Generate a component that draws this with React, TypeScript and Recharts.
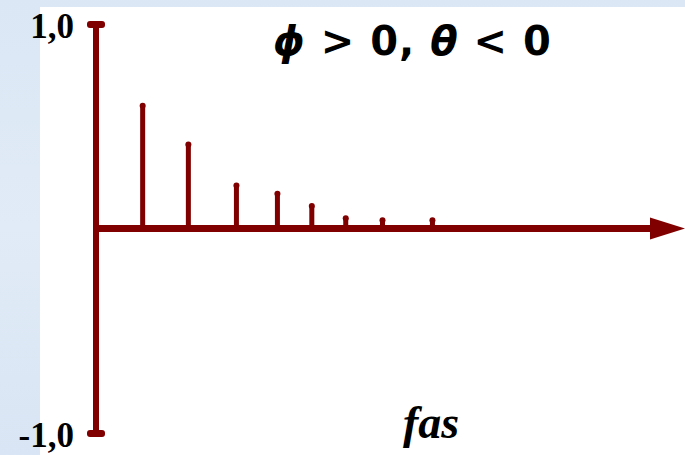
import { Bar, ComposedChart, ReferenceLine, XAxis, YAxis } from 'recharts';

const MAROON = '#800000';

// lag positions (as drawn) and autocorrelation values
const LAGS = [1, 1.97, 2.99, 3.86, 4.59, 5.31, 6.09, 7.15];
const ACF = [0.61, 0.42, 0.22, 0.18, 0.12, 0.06, 0.05, 0.05];
const Y_TICKS = [-1, 1];
const Y_LABELS: Record<string, string> = { '1': '1,0', '-1': '-1,0' };

const data = LAGS.map((lag, i) => ({ lag, v: ACF[i] }));

function Stem(props: any) {
  const { x, y, width, height } = props;
  if (x == null || y == null) return null;
  const cx = x + width / 2;
  return (
    <g>
      <rect x={x} y={y + 2} width={width} height={Math.max(height - 2, 0)} fill={MAROON} />
      <circle cx={cx} cy={y + 2} r={3} fill={MAROON} />
    </g>
  );
}

function CapTick(props: any) {
  const { x, y, payload } = props;
  return (
    <g>
      <rect x={x - 9} y={y - 3} width={18} height={7} rx={3} fill={MAROON} />
      <text
        x={x - 22}
        y={y + 14}
        textAnchor="end"
        style={{ fontFamily: "'Liberation Serif', serif", fontWeight: 'bold', fontSize: 35, fill: '#000' }}
      >
        {Y_LABELS[String(payload.value)]}
      </text>
    </g>
  );
}

function ArrowAxis(props: any) {
  const { x1, y1, x2 } = props;
  return (
    <g>
      <line x1={x1} y1={y1} x2={x2 - 30} y2={y1} stroke={MAROON} strokeWidth={7} />
      <polygon points={`${x2 - 35},${y1 - 11} ${x2},${y1} ${x2 - 35},${y1 + 11}`} fill={MAROON} />
    </g>
  );
}

export default function App() {
  return (
    <div
      style={{
        position: 'absolute',
        left: 0,
        top: 0,
        width: 685,
        height: 455,
        background: 'linear-gradient(180deg, #dbe7f5 0%, #e1ebf7 50%, #d9e5f4 100%)',
        overflow: 'hidden',
      }}
    >
      <div style={{ position: 'absolute', left: 40, top: 7, right: 0, bottom: 0, background: '#fff' }} />
      <div style={{ position: 'absolute', left: 0, top: 0 }}>
        <ComposedChart width={685} height={455} data={data} margin={{ top: 24, right: 0, bottom: 22, left: 0 }}>
          <XAxis type="number" dataKey="lag" domain={[0, 12.5]} hide />
          <YAxis
            type="number"
            domain={[-1, 1]}
            ticks={Y_TICKS}
            width={96}
            tickSize={0}
            tickMargin={0}
            axisLine={{ stroke: MAROON, strokeWidth: 6 }}
            tickLine={false}
            tick={<CapTick />}
          />
          <ReferenceLine y={0} ifOverflow="visible" shape={<ArrowAxis />} />
          <Bar dataKey="v" barSize={5} shape={<Stem />} isAnimationActive={false} />
        </ComposedChart>
      </div>
      <div
        style={{
          position: 'absolute',
          left: 273,
          top: 18,
          fontFamily: "'DejaVu Sans', sans-serif",
          fontWeight: 'bold',
          fontSize: 40,
          letterSpacing: 1,
          whiteSpace: 'nowrap',
          color: '#000',
        }}
      >
        <i>ϕ</i> &gt; 0, <i>θ</i> &lt; 0
      </div>
      <div
        style={{
          position: 'absolute',
          left: 403,
          top: 396,
          fontFamily: "'Liberation Serif', serif",
          fontWeight: 'bold',
          fontStyle: 'italic',
          fontSize: 46,
          color: '#000',
          whiteSpace: 'nowrap',
        }}
      >
        fas
      </div>
    </div>
  );
}
